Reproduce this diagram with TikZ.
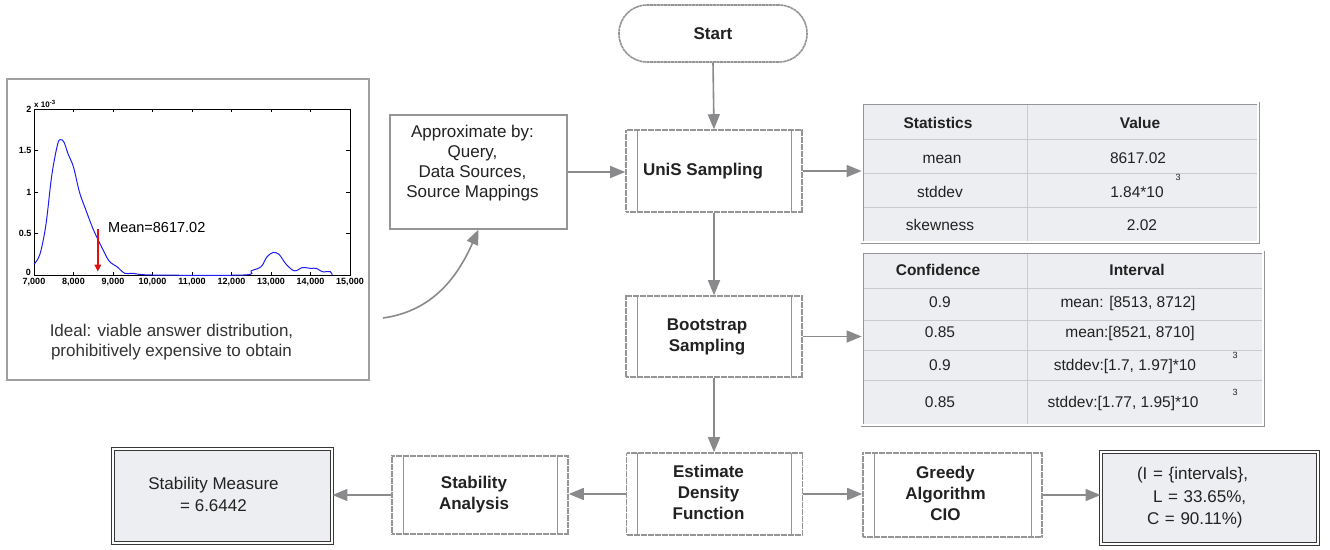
\documentclass[tikz,border=0pt]{standalone}
\usepackage{fontspec}
\setmainfont{Liberation Sans}
\usetikzlibrary{arrows.meta}

\definecolor{procgray}{HTML}{959595}
\definecolor{arrgray}{HTML}{8A8A8C}
\definecolor{tabfill}{HTML}{EDEEF1}
\definecolor{tabline}{HTML}{CBCBCF}
\definecolor{ink}{HTML}{222222}
\definecolor{curveblue}{HTML}{1E1EF0}
\definecolor{meanred}{HTML}{E01010}

% centred block of lines with extra room on the right (shifts the text left)
\newcommand{\padlab}[2]{\begin{tabular}{@{}c@{\hspace{#1}}}#2\end{tabular}}

\begin{document}
\begin{tikzpicture}[x=1pt, y=-1pt,
  font=\fontsize{17}{21}\selectfont, text=ink,
  proc/.style={draw=procgray, line width=1.6pt, dash pattern=on 3pt off 0.5pt,
    fill=white, minimum width=176pt, minimum height=82pt, inner sep=0pt,
    font=\bfseries\fontsize{17}{21}\selectfont,
    path picture={\draw[procgray, line width=1pt, solid]
      ([xshift=11pt]path picture bounding box.north west) -- ([xshift=11pt]path picture bounding box.south west)
      ([xshift=-11pt]path picture bounding box.north east) -- ([xshift=-11pt]path picture bounding box.south east);}},
  term/.style={draw=procgray, line width=1.6pt, dash pattern=on 3pt off 0.5pt,
    fill=white, rounded corners=28pt, minimum width=188pt, minimum height=57pt,
    font=\bfseries\fontsize{17}{21}\selectfont},
  resbox/.style={draw=black!78, line width=0.9pt, double=white, double distance=1.6pt,
    fill=tabfill, inner sep=0pt},
  tabbox/.style={draw=procgray, line width=0.8pt, double=white, double distance=1.4pt,
    fill=tabfill, inner sep=0pt},
  grid/.style={draw=tabline, line width=1pt},
  th/.style={anchor=base, inner sep=0pt, font=\bfseries\fontsize{15.5}{18}\selectfont},
  td/.style={anchor=base, inner sep=0pt, font=\fontsize{15.5}{18}\selectfont},
  sup/.style={inner sep=0pt, font=\fontsize{9}{10}\selectfont},
  arr/.style={draw=arrgray, line width=1.6pt, -{Triangle[length=15pt, width=12pt]}},
  ticklab/.style={inner sep=0pt, font=\bfseries\fontsize{9}{10}\selectfont, text=black},
]
\useasboundingbox (0,0) rectangle (1330,549);

% ---------------- density plot panel ----------------
\draw[draw=gray!75, line width=1.5pt] (7,79) rectangle (369,380);
\begin{scope}[shift={(34,275)}, xscale=39.5, yscale=-83]
  \draw[black, line width=0.6pt] (0,0) rectangle (8,2);
  \foreach \k in {1,...,7} {
    \draw[black, line width=0.6pt] (\k,0) -- ++(0,0.04) (\k,2) -- ++(0,-0.04);
  }
  \foreach \v in {0.5,1,1.5} {
    \draw[black, line width=0.6pt] (0,\v) -- ++(0.09,0) (8,\v) -- ++(-0.09,0);
  }
  \foreach \k/\lab in {0/{7,000},1/{8,000},2/{9,000},3/{10,000},4/{11,000},5/{12,000},6/{13,000},7/{14,000},8/{15,000}} {
    \node[ticklab, anchor=north] (xt\k) at (\k,0) [yshift=-3.5pt] {\lab};
  }
  \foreach \v/\lab [count=\i] in {0.5/0.5,1/1,1.5/1.5,2/2} {
    \node[ticklab, anchor=east] (yt\i) at (0,\v) [xshift=-2.5pt] {\lab};
  }
  \node[ticklab, anchor=south east] (yt0) at (0,0) [xshift=-3pt, yshift=-1pt] {0};
  \node[ticklab, anchor=south west, font=\bfseries\fontsize{8}{9}\selectfont] (yexp) at (0,2) [yshift=1pt]
    {x 10\raisebox{3.5pt}{\fontsize{6}{7}\selectfont -3}};
  \draw[curveblue, line width=1pt] plot[smooth, tension=0.55] coordinates {
    (0,0.13) (0.15,0.25) (0.3,0.6) (0.45,1.2) (0.6,1.58) (0.68,1.63) (0.76,1.6)
    (0.87,1.45) (1.0,1.3) (1.15,1.0) (1.3,0.8) (1.5,0.55) (1.7,0.35) (1.9,0.17)
    (2.1,0.1) (2.3,0.02) (2.5,0.02) (3.0,0.0) (5.3,0.0) (5.5,0.05) (5.75,0.1)
    (5.9,0.22) (6.05,0.27) (6.2,0.25) (6.4,0.12) (6.6,0.05) (6.8,0.09) (7.0,0.08)
    (7.15,0.08) (7.3,0.04) (7.5,0.04) (7.55,0.0)};
  \coordinate (mtop) at (1.617,0.55);
  \coordinate (mbot) at (1.617,0.04);
  \draw[meanred, line width=1.6pt, -{Triangle[length=7pt, width=6.5pt]}] (mtop) -- (mbot);
\end{scope}
\node[anchor=west, inner sep=0pt, font=\fontsize{14.5}{17}\selectfont, text=black] (meanlbl) at (108,228) {Mean=8617.02};
\node[align=center, inner sep=0pt, font=\fontsize{17}{20}\selectfont, text=black!80] (ideal) at (171.5,342)
  {Ideal: viable answer distribution,\\prohibitively expensive to obtain};

% ---------------- approximation box ----------------
\node[draw=procgray, line width=1.2pt, fill=white, minimum width=177pt, minimum height=114pt, inner sep=0pt,
  font=\fontsize{17}{20}\selectfont] (approx) at (478.5,172)
  {\padlab{12pt}{Approximate by:\\Query,\\Data Sources,\\Source Mappings\\[18pt]}};
\coordinate (cstart) at (383,318);

% ---------------- flow chart ----------------
\node[term] (start) at (713,33.5) {Start};
\node[proc] (unis) at (714,171) {\padlab{22pt}{UniS Sampling}};
\node[proc, minimum height=81pt] (boot) at (714,336.5) {\padlab{14pt}{Bootstrap\\Sampling}};
\node[proc] (est) at (714.5,494) {\padlab{12pt}{Estimate\\Density\\Function}};
\node[proc, minimum height=78pt] (stab) at (480,495) {\padlab{12pt}{Stability\\Analysis}};
\node[proc, minimum width=179pt, minimum height=84pt] (greedy) at (952.5,495) {\padlab{14pt}{Greedy\\Algorithm\\CIO}};

\node[resbox, minimum width=219pt, minimum height=94pt, font=\fontsize{17}{22}\selectfont] (measure) at (222.5,496)
  {\padlab{18pt}{Stability Measure\\= 6.6442}};
\node[resbox, minimum width=217pt, minimum height=92pt, text width=145pt, inner xsep=36pt, align=left,
  font=\fontsize{17}{22.5}\selectfont] (result) at (1209.5,498)
  {(I = \{intervals\},\\\hspace*{16pt}L = 33.65\%,\\\hspace*{10pt}C = 90.11\%)};

% ---------------- statistics table ----------------
\node[tabbox, minimum width=396pt, minimum height=139pt] (stats) at (1060,172.5) {};
\draw[grid] (1027,104.5) -- (1027,240.5);
\draw[grid] (863.5,139) -- (1256.5,139) (863.5,173) -- (1256.5,173) (863.5,207) -- (1256.5,207);
\node[th] (s11) at (938,128.5) {Statistics};
\node[th] (s12) at (1140,128.5) {Value};
\node[td] (s21) at (942,163) {mean};
\node[td] (s22) at (1138,163) {8617.02};
\node[td] (s31) at (940,197) {stddev};
\node[td] (s32) at (1137,197) {1.84*10};
\node[sup] (s3e) at (1178,177) {3};
\node[td] (s41) at (940,230.5) {skewness};
\node[td] (s42) at (1142,230.5) {2.02};

% ---------------- confidence interval table ----------------
\node[tabbox, minimum width=401pt, minimum height=173pt] (ci) at (1062.5,338.5) {};
\draw[grid] (1027,253.5) -- (1027,423.5);
\draw[grid] (863.5,288) -- (1261.5,288) (863.5,320) -- (1261.5,320) (863.5,350) -- (1261.5,350) (863.5,380) -- (1261.5,380);
\node[th] (c11) at (938,275.5) {Confidence};
\node[th] (c12) at (1137,275.5) {Interval};
\node[td] (c21) at (940,307) {0.9};
\node[td] (c22) at (1128,307) {mean: [8513, 8712]};
\node[td] (c31) at (940,337) {0.85};
\node[td] (c32) at (1130,337) {mean:[8521, 8710]};
\node[td] (c41) at (940,370.5) {0.9};
\node[td] (c42) at (1125,370.5) {stddev:[1.7, 1.97]*10};
\node[sup] (c4e) at (1235,355) {3};
\node[td] (c51) at (940,407) {0.85};
\node[td] (c52) at (1123,407) {stddev:[1.77, 1.95]*10};
\node[sup] (c5e) at (1235,392) {3};

% ---------------- connectors ----------------
\draw[arr] (cstart) to[out=8, in=-114] (approx.south);
\draw[arr] (approx.east) -- (approx.east -| unis.west);
\draw[arr] (start.south) -- (unis.north);
\draw[arr] (unis.east) -- (unis.east -| stats.west);
\draw[arr] (unis.south) -- (boot.north);
\draw[arr] (boot.east) -- (boot.east -| ci.west);
\draw[arr] (boot.south) -- (est.north -| boot.south);
\draw[arr] (est.west) -- (est.west -| stab.east);
\draw[arr] (stab.west) -- (stab.west -| measure.east);
\draw[arr] (est.east) -- (est.east -| greedy.west);
\draw[arr] (greedy.east) -- (greedy.east -| result.west);
\end{tikzpicture}
\end{document}
